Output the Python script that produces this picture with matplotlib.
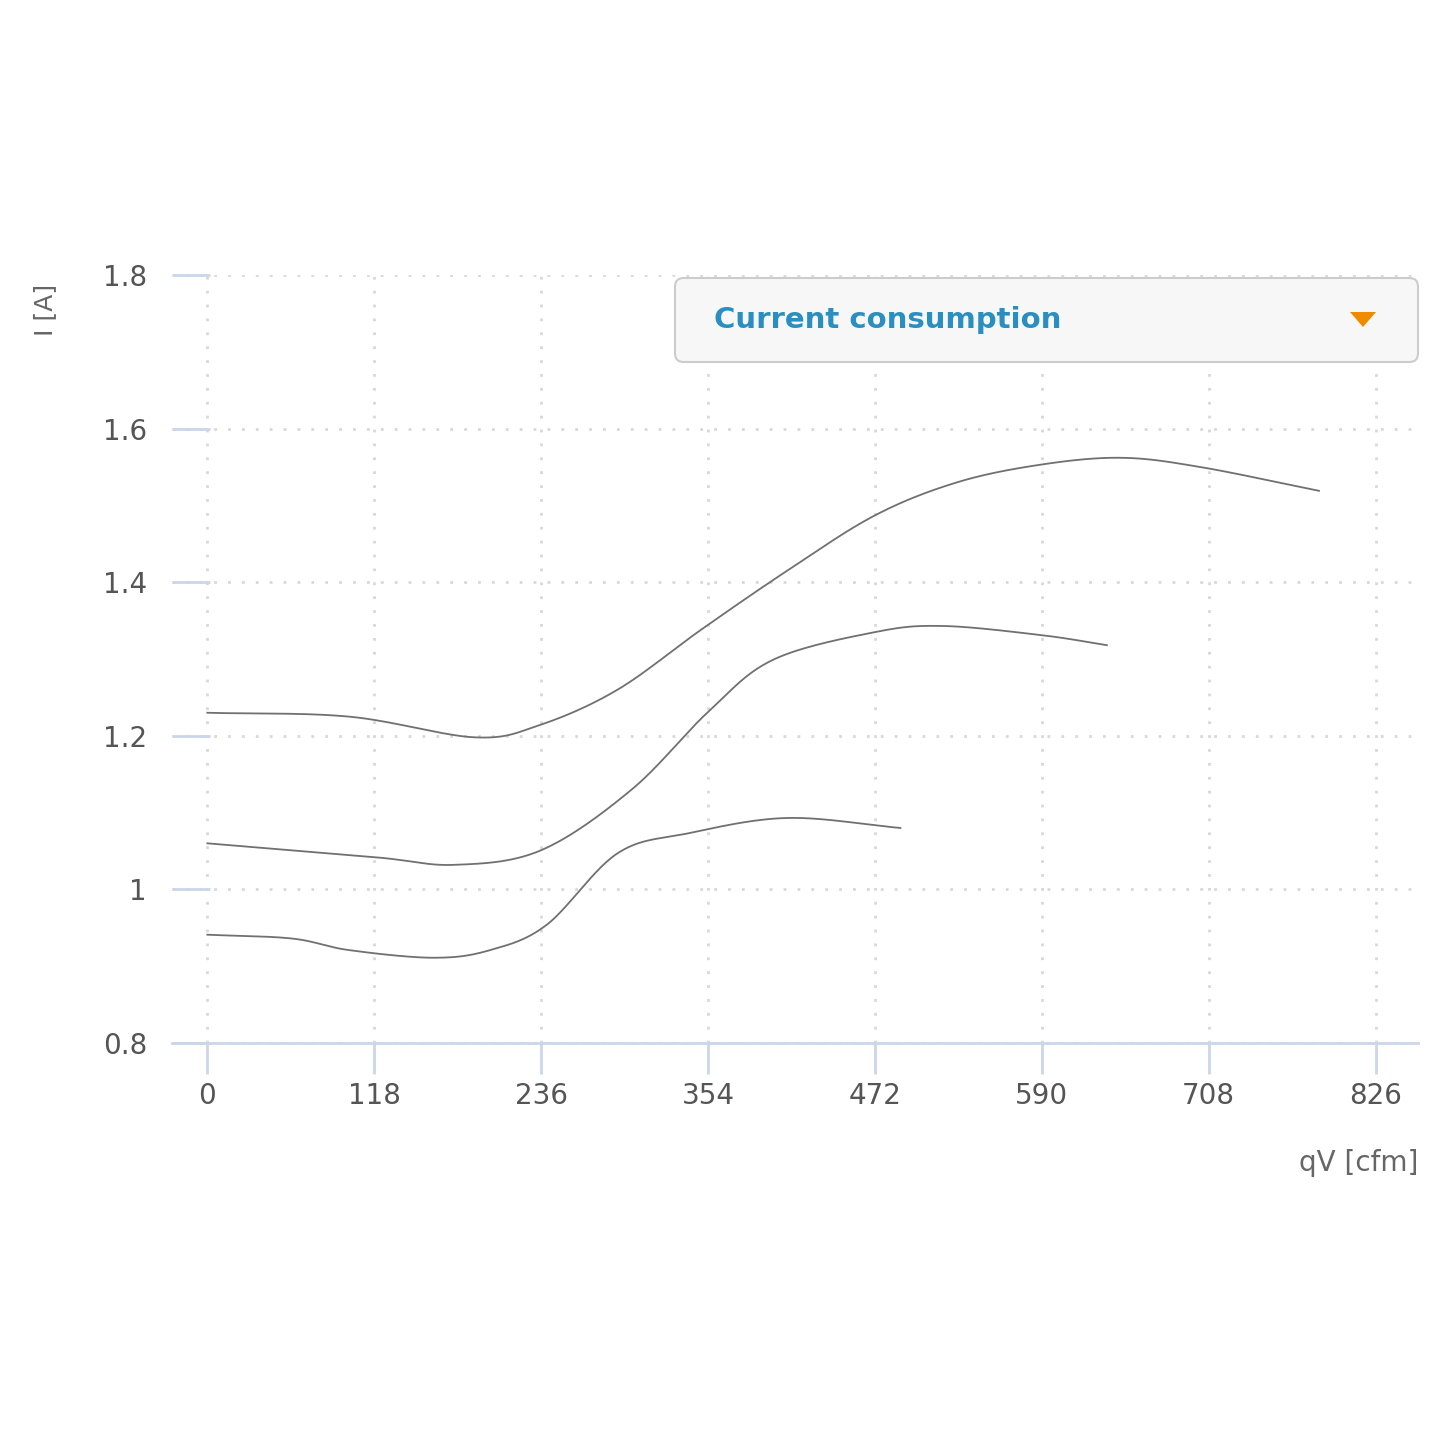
import numpy as np
import matplotlib
matplotlib.use("Agg")
import matplotlib.pyplot as plt
from matplotlib.patches import FancyBboxPatch, Polygon

x_top = [0, 100, 189, 235, 290, 349, 410, 472, 530, 589, 646, 702, 786]
y_top = [1.23, 1.225, 1.198, 1.214, 1.26, 1.338, 1.415, 1.487, 1.53, 1.553, 1.562, 1.55, 1.519]
x_mid = [0, 118, 175, 236, 300, 354, 400, 472, 520, 590, 636]
y_mid = [1.06, 1.042, 1.032, 1.051, 1.13, 1.231, 1.299, 1.335, 1.343, 1.331, 1.318]
x_bot = [0, 60, 100, 160, 200, 240, 290, 340, 410, 490]
y_bot = [0.941, 0.936, 0.921, 0.911, 0.921, 0.954, 1.047, 1.073, 1.093, 1.080]
xticks = [0, 118, 236, 354, 472, 590, 708, 826]
yticks = [0.8, 1.0, 1.2, 1.4, 1.6, 1.8]
yticklabels = ["0.8", "1", "1.2", "1.4", "1.6", "1.8"]

def smooth(x, y, n=30):
    x = np.asarray(x, float); y = np.asarray(y, float)
    P = np.column_stack([x, y])
    P = np.vstack([2*P[0]-P[1], P, 2*P[-1]-P[-2]])
    out = []
    t = np.linspace(0, 1, n, endpoint=False)
    for i in range(1, len(P)-2):
        p0, p1, p2, p3 = P[i-1], P[i], P[i+1], P[i+2]
        tt = t[:, None]
        pts = 0.5*((2*p1) + (-p0+p2)*tt + (2*p0-5*p1+4*p2-p3)*tt**2 + (-p0+3*p1-3*p2+p3)*tt**3)
        out.append(pts)
    out.append(P[-2][None, :])
    out = np.vstack(out)
    return out[:, 0], out[:, 1]

fig = plt.figure(figsize=(14.45, 14.45), dpi=100)
ax = fig.add_axes([172/1445, 1-1043/1445, (1418-172)/1445, (1043-275)/1445])
ax.set_xlim(-25, 856)
ax.set_ylim(0.8, 1.8)
for xs, ys in [(x_top, y_top), (x_mid, y_mid), (x_bot, y_bot)]:
    sx, sy = smooth(xs, ys)
    ax.plot(sx, sy, color="#707070", lw=1.3)
ax.set_xticks(xticks)
ax.set_xticklabels([str(v) for v in xticks])
ax.set_yticks(yticks)
ax.set_yticklabels(yticklabels)
ax.grid(True, color="#d8d8d8", linestyle=(0, (1, 4)), lw=2)
for s in ["top", "right", "left"]:
    ax.spines[s].set_visible(False)
ax.spines["bottom"].set_color("#ccd6eb")
ax.spines["bottom"].set_linewidth(2)
ax.tick_params(axis="x", direction="out", length=22, width=2, color="#ccd6eb",
               labelsize=20, labelcolor="#555555", pad=6)
ax.tick_params(axis="y", direction="in", length=27, width=2, color="#ccd6eb",
               labelsize=20, labelcolor="#555555", pad=18)
ax.set_axisbelow(True)
fig.text(45/1445, 1-310/1445, "I [A]", rotation=90, fontsize=18, color="#666666",
         ha="center", va="center")
fig.text(1418/1445, 1-1163/1445, "qV [cfm]", fontsize=20, color="#666666",
         ha="right", va="center")
box = FancyBboxPatch((675/1445, 1-362/1445), (1418-675)/1445, (362-278)/1445,
                     boxstyle="round,pad=0,rounding_size=0.006", transform=fig.transFigure,
                     facecolor="#f7f7f7", edgecolor="#cccccc", lw=1.5, zorder=5)
fig.patches.append(box)
fig.text(714/1445, 1-320/1445, "Current consumption", fontsize=21, color="#2a8fc0",
         fontweight="bold", ha="left", va="center", zorder=6)
tri = Polygon([[1350/1445, 1-312/1445], [1376/1445, 1-312/1445], [1363/1445, 1-327/1445]],
              closed=True, transform=fig.transFigure, facecolor="#f08a00", edgecolor="none", zorder=6)
fig.patches.append(tri)
fig.savefig("out.png", dpi=100, facecolor="white")
